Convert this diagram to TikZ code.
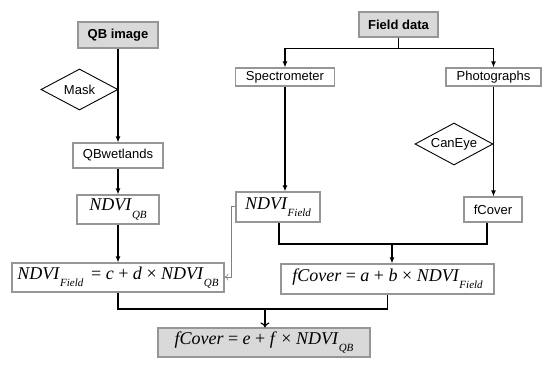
\documentclass[tikz,border=0pt]{standalone}
\usepackage{fontspec}
\setmainfont{Liberation Sans}
\newfontfamily\eqfont{Liberation Serif}
\usetikzlibrary{shapes.geometric,arrows.meta}
\definecolor{boxgray}{RGB}{150,150,150}
\definecolor{fillgray}{RGB}{217,217,217}
\newcommand{\eqi}[1]{\textit{#1}}
\newcommand{\eqsub}[1]{\raisebox{-0.4em}{\fontsize{11}{11}\selectfont\textit{#1}}}
\begin{document}
\begin{tikzpicture}[x=1pt,y=-1pt,
  box/.style={draw=boxgray,line width=1.1pt,inner sep=0pt,font=\fontsize{13}{13}\selectfont},
  hdr/.style={box,fill=fillgray,font=\fontsize{13}{13}\selectfont\bfseries},
  eqbox/.style={draw=boxgray,line width=1.1pt,inner sep=0pt,font=\eqfont\fontsize{18}{18}\selectfont},
  dia/.style={draw=black,line width=0.9pt,diamond,inner sep=0pt,aspect=1.9,font=\fontsize{13}{13}\selectfont},
  conn/.style={draw=black,line width=1.2pt},
  arr/.style={conn,-{Latex[length=6pt,width=5pt]}},
  openarr/.style={conn,-{To[length=5pt,width=9pt]}},
  thinarr/.style={draw=gray,line width=0.6pt,-{To[length=4pt,width=7pt]}}]
\useasboundingbox (0,0) rectangle (550,378);
% left column
\node[hdr,minimum width=80,minimum height=26] (qb) at (118,35) {QB image};
\node[dia,minimum width=77,minimum height=41] (mask) at (79.5,89.5) {Mask};
\node[box,minimum width=90,minimum height=25] (qbw) at (118,155.5) {QBwetlands};
\node[eqbox,minimum width=82,minimum height=29] (ndviqb) at (118,209.5) {\eqi{NDVI}\eqsub{QB}};
\node[eqbox,minimum width=212,minimum height=29] (eq1) at (118,277.5) {\eqi{NDVI}\eqsub{Field}\,$\;$= \eqi{c} + \eqi{d} × \eqi{NDVI}\eqsub{QB}};
% right column
\node[hdr,minimum width=79,minimum height=25] (field) at (398.5,24.5) {Field data};
\node[box,minimum width=99,minimum height=18] (spec) at (285,77) {Spectrometer};
\node[box,minimum width=95,minimum height=18] (photo) at (493.5,77) {Photographs};
\node[eqbox,minimum width=84,minimum height=30] (ndvif) at (278,207) {\eqi{NDVI}\eqsub{Field}};
\node[dia,minimum width=78,minimum height=42] (caneye) at (454,144) {CanEye};
\node[box,minimum width=58,minimum height=25] (fcov) at (493,209.5) {fCover};
\node[eqbox,minimum width=213,minimum height=30] (eq2) at (387.5,279) {\eqi{fCover} = \eqi{a} + \eqi{b} × \eqi{NDVI}\eqsub{Field}};
% final
\node[eqbox,fill=fillgray,minimum width=212,minimum height=29] (final) at (264,342.5) {\eqi{fCover} = \eqi{e} + \eqi{f} × \eqi{NDVI}\eqsub{QB}};
% connectors left
\draw[arr] (qb.south) -- (qbw.north);
\draw[arr] (qbw.south) -- (ndviqb.north);
\draw[arr] (ndviqb.south) -- (eq1.north);
% connectors right
\coordinate (fsplit) at ([yshift=-11pt]field.south);
\draw[conn] (field.south) -- (fsplit);
\draw[arr] (fsplit) -| (spec.north);
\draw[arr] (fsplit) -| (photo.north);
\draw[arr] (spec.south) -- (spec.south |- ndvif.north);
\draw[arr] (photo.south) -- (photo.south |- fcov.north);
\coordinate (ndvifb) at ([xshift=1pt]ndvif.south);
\coordinate (fcovb) at ([xshift=-6pt]fcov.south);
\coordinate (j2) at (392,244);
\draw[conn] (ndvifb) |- (j2) -| (fcovb);
\draw[arr] (j2) -- (j2 |- eq2.north);
% bottom join
\coordinate (j3) at (265,309);
\draw[conn] (eq1.south) |- (j3) -| (eq2.south);
\draw[openarr] (j3) -- (j3 |- final.north);
% thin gray connector
\coordinate (g1) at (231,206);
\coordinate (g2) at (231,277);
\draw[thinarr] (g1 -| ndvif.west) -- (g1) -- (g2) -- (g2 -| eq1.east);
\end{tikzpicture}
\end{document}
